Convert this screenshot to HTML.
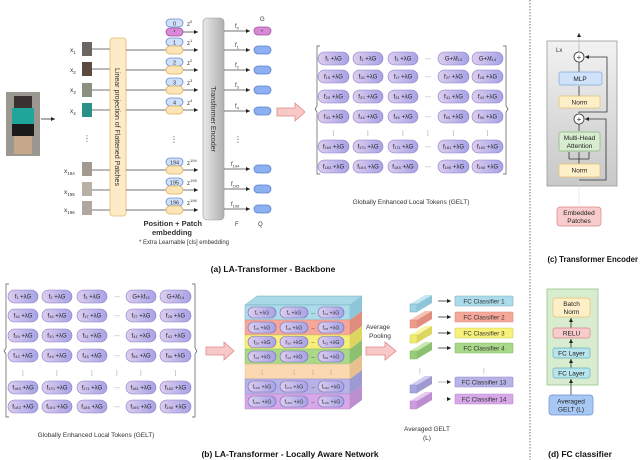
<!DOCTYPE html>
<html><head><meta charset="utf-8"><style>
html,body{margin:0;padding:0;background:#fff}
svg{display:block}
text{font-family:"Liberation Sans","DejaVu Sans",sans-serif;fill:#333}
.p{font-size:6px;text-anchor:middle;fill:#222}
.s{font-size:6.5px;text-anchor:middle;fill:#222}
.b{font-weight:bold;font-size:8.5px;fill:#111}
</style></head><body>
<svg width="640" height="460" viewBox="0 0 640 460" xmlns="http://www.w3.org/2000/svg">
<defs>
<linearGradient id="lg" x1="0" x2="1"><stop offset="0" stop-color="#ddcdee"/><stop offset="1" stop-color="#a7a3e6"/></linearGradient>
<linearGradient id="enc" x1="0" x2="1"><stop offset="0" stop-color="#e8e8e8"/><stop offset="1" stop-color="#b0b0b0"/></linearGradient>
<linearGradient id="gb" x1="0" y1="0" x2="0" y2="1"><stop offset="0" stop-color="#f2f2f2"/><stop offset="1" stop-color="#c8c8c8"/></linearGradient>
<marker id="ar" markerWidth="6" markerHeight="6" refX="5" refY="3" orient="auto"><path d="M0,0.5 L5,3 L0,5.5z" fill="#222"/></marker>
</defs>

<line x1="530" y1="0" x2="530" y2="460" stroke="#555" stroke-dasharray="1.5,1.5" stroke-width="0.8"/>

<!-- ===== (a) ===== -->
<rect x="6" y="92" width="34" height="64" fill="#9a9890"/>
<rect x="14" y="96" width="18" height="14" fill="#3a3030"/>
<rect x="12" y="108" width="22" height="16" fill="#1fa59a"/>
<rect x="12" y="124" width="22" height="12" fill="#1a1a1a"/>
<rect x="14" y="136" width="18" height="18" fill="#c8a88a"/>
<line x1="41" y1="119" x2="55" y2="119" stroke="#333" stroke-width="0.8" marker-end="url(#ar)"/>

<g font-size="6.5">
<text x="70" y="52">x<tspan font-size="4.5" dy="2">1</tspan></text>
<text x="70" y="72">x<tspan font-size="4.5" dy="2">2</tspan></text>
<text x="70" y="92">x<tspan font-size="4.5" dy="2">3</tspan></text>
<text x="70" y="113">x<tspan font-size="4.5" dy="2">4</tspan></text>
<text x="64" y="173">x<tspan font-size="4.5" dy="2">194</tspan></text>
<text x="64" y="194">x<tspan font-size="4.5" dy="2">195</tspan></text>
<text x="64" y="212">x<tspan font-size="4.5" dy="2">196</tspan></text>
</g>
<g>
<rect x="82" y="42" width="10" height="14" fill="#6a6560"/>
<rect x="82" y="62" width="10" height="14" fill="#5a4a40"/>
<rect x="82" y="83" width="10" height="14" fill="#8a9080"/>
<rect x="82" y="103" width="10" height="14" fill="#2a9088"/>
<rect x="82" y="162" width="10" height="14" fill="#a09a90"/>
<rect x="82" y="182" width="10" height="14" fill="#b8b0a4"/>
<rect x="82" y="201" width="10" height="14" fill="#b0a8a0"/>
</g>
<text x="87" y="141" font-size="8" text-anchor="middle">⋮</text>
<g stroke="#444" stroke-width="0.8">
<line x1="92" y1="49" x2="110" y2="49"/><line x1="92" y1="69" x2="110" y2="69"/>
<line x1="92" y1="90" x2="110" y2="90"/><line x1="92" y1="110" x2="110" y2="110"/>
<line x1="92" y1="170" x2="110" y2="170"/><line x1="92" y1="190" x2="110" y2="190"/>
<line x1="92" y1="210" x2="110" y2="210"/>
</g>
<rect x="110" y="38" width="16" height="178" rx="3" fill="#fdebc8" stroke="#e3b870" stroke-width="0.8"/>
<text transform="translate(115,127) rotate(90)" font-size="7" text-anchor="middle">Linear projection of Flattened Patches</text>

<g stroke="#444" stroke-width="0.8">
<line x1="183" y1="32" x2="198" y2="32" marker-end="url(#ar)"/>
<line x1="126" y1="50" x2="198" y2="50" marker-end="url(#ar)"/>
<line x1="126" y1="70" x2="198" y2="70" marker-end="url(#ar)"/>
<line x1="126" y1="90" x2="198" y2="90" marker-end="url(#ar)"/>
<line x1="126" y1="110" x2="198" y2="110" marker-end="url(#ar)"/>
<line x1="126" y1="170" x2="198" y2="170" marker-end="url(#ar)"/>
<line x1="126" y1="190" x2="198" y2="190" marker-end="url(#ar)"/>
<line x1="126" y1="210" x2="198" y2="210" marker-end="url(#ar)"/>
</g>
<g stroke-width="0.8">
<rect x="166" y="19" width="17" height="8" rx="4" fill="#cfe0fa" stroke="#6a8ad0"/>
<rect x="166" y="28" width="17" height="8" rx="4" fill="#d98ad6" stroke="#a050a0"/>
<rect x="166" y="38" width="17" height="8" rx="4" fill="#cfe0fa" stroke="#6a8ad0"/>
<rect x="166" y="46" width="17" height="8" rx="4" fill="#fde5b8" stroke="#e0b060"/>
<rect x="166" y="58" width="17" height="8" rx="4" fill="#cfe0fa" stroke="#6a8ad0"/>
<rect x="166" y="66" width="17" height="8" rx="4" fill="#fde5b8" stroke="#e0b060"/>
<rect x="166" y="78" width="17" height="8" rx="4" fill="#cfe0fa" stroke="#6a8ad0"/>
<rect x="166" y="86" width="17" height="8" rx="4" fill="#fde5b8" stroke="#e0b060"/>
<rect x="166" y="98" width="17" height="8" rx="4" fill="#cfe0fa" stroke="#6a8ad0"/>
<rect x="166" y="106" width="17" height="8" rx="4" fill="#fde5b8" stroke="#e0b060"/>
<rect x="166" y="158" width="17" height="8" rx="4" fill="#cfe0fa" stroke="#6a8ad0"/>
<rect x="166" y="166" width="17" height="8" rx="4" fill="#fde5b8" stroke="#e0b060"/>
<rect x="166" y="178" width="17" height="8" rx="4" fill="#cfe0fa" stroke="#6a8ad0"/>
<rect x="166" y="186" width="17" height="8" rx="4" fill="#fde5b8" stroke="#e0b060"/>
<rect x="166" y="198" width="17" height="8" rx="4" fill="#cfe0fa" stroke="#6a8ad0"/>
<rect x="166" y="206" width="17" height="8" rx="4" fill="#fde5b8" stroke="#e0b060"/>
</g>
<g font-size="5.5" text-anchor="middle">
<text x="174.5" y="25.5">0</text><text x="174.5" y="34">*</text>
<text x="174.5" y="44.5">1</text><text x="174.5" y="64.5">2</text>
<text x="174.5" y="84.5">3</text><text x="174.5" y="104.5">4</text>
<text x="174.5" y="164.5">194</text><text x="174.5" y="184.5">195</text><text x="174.5" y="204.5">196</text>
</g>
<g font-size="6">
<text x="187" y="26">z<tspan font-size="4" dy="-3">0</tspan></text>
<text x="187" y="45">z<tspan font-size="4" dy="-3">1</tspan></text>
<text x="187" y="65">z<tspan font-size="4" dy="-3">2</tspan></text>
<text x="187" y="85">z<tspan font-size="4" dy="-3">3</tspan></text>
<text x="187" y="105">z<tspan font-size="4" dy="-3">4</tspan></text>
<text x="187" y="165">z<tspan font-size="4" dy="-3">194</tspan></text>
<text x="187" y="185">z<tspan font-size="4" dy="-3">195</tspan></text>
<text x="187" y="205">z<tspan font-size="4" dy="-3">196</tspan></text>
</g>
<text x="174" y="142" font-size="8" text-anchor="middle">⋮</text>

<rect x="203" y="18" width="21" height="202" rx="4" fill="url(#enc)" stroke="#999" stroke-width="0.6"/>
<text transform="translate(211,119) rotate(90)" font-size="7" text-anchor="middle">Transformer Encoder</text>

<g stroke="#444" stroke-width="0.8">
<line x1="224" y1="31" x2="250" y2="31" marker-end="url(#ar)"/>
<line x1="224" y1="50" x2="250" y2="50" marker-end="url(#ar)"/>
<line x1="224" y1="70" x2="250" y2="70" marker-end="url(#ar)"/>
<line x1="224" y1="90" x2="250" y2="90" marker-end="url(#ar)"/>
<line x1="224" y1="111" x2="250" y2="111" marker-end="url(#ar)"/>
<line x1="224" y1="169" x2="250" y2="169" marker-end="url(#ar)"/>
<line x1="224" y1="189" x2="250" y2="189" marker-end="url(#ar)"/>
<line x1="224" y1="209" x2="250" y2="209" marker-end="url(#ar)"/>
</g>
<g font-size="6">
<text x="235" y="28">f<tspan font-size="4" dy="1.5">0</tspan></text>
<text x="235" y="47">f<tspan font-size="4" dy="1.5">1</tspan></text>
<text x="235" y="67">f<tspan font-size="4" dy="1.5">2</tspan></text>
<text x="235" y="87">f<tspan font-size="4" dy="1.5">3</tspan></text>
<text x="235" y="108">f<tspan font-size="4" dy="1.5">4</tspan></text>
<text x="231" y="166">f<tspan font-size="4" dy="1.5">194</tspan></text>
<text x="231" y="186">f<tspan font-size="4" dy="1.5">195</tspan></text>
<text x="231" y="206">f<tspan font-size="4" dy="1.5">196</tspan></text>
<text x="260" y="21">G</text>
</g>
<text x="238" y="142" font-size="8" text-anchor="middle">⋮</text>
<g stroke-width="0.8">
<rect x="254" y="27" width="17" height="8" rx="4" fill="#d98ad6" stroke="#a050a0"/>
<rect x="254" y="46" width="17" height="8" rx="4" fill="#8cb0f2" stroke="#5a80d0"/>
<rect x="254" y="66" width="17" height="8" rx="4" fill="#8cb0f2" stroke="#5a80d0"/>
<rect x="254" y="86" width="17" height="8" rx="4" fill="#8cb0f2" stroke="#5a80d0"/>
<rect x="254" y="107" width="17" height="8" rx="4" fill="#8cb0f2" stroke="#5a80d0"/>
<rect x="254" y="165" width="17" height="8" rx="4" fill="#8cb0f2" stroke="#5a80d0"/>
<rect x="254" y="185" width="17" height="8" rx="4" fill="#8cb0f2" stroke="#5a80d0"/>
<rect x="254" y="205" width="17" height="8" rx="4" fill="#8cb0f2" stroke="#5a80d0"/>
</g>
<text x="262" y="33.5" font-size="5.5" text-anchor="middle">*</text>
<text x="235" y="226" font-size="6">F</text>
<text x="258" y="226" font-size="6">Q</text>
<text x="202" y="226" font-size="7.5" font-weight="bold" text-anchor="end" fill="#222">Position + Patch</text>
<text x="192" y="235" font-size="7.5" font-weight="bold" text-anchor="end" fill="#222">embedding</text>
<text x="229" y="244" font-size="6" text-anchor="end">* Extra Learnable [cls] embedding</text>

<path d="M277,108 h18 v-5 l10,9 l-10,9 v-5 h-18z" fill="#f8c8c8" stroke="#e08888" stroke-width="0.8"/>

<path d="M320,46 h-3 v60 l-2,3 l2,3 v62 h3" fill="none" stroke="#555" stroke-width="0.7"/>
<path d="M503,46 h3 v60 l2,3 l-2,3 v62 h-3" fill="none" stroke="#555" stroke-width="0.7"/>
<g fill="url(#lg)" stroke="#8a7cc8" stroke-width="0.6">
<rect x="318" y="52" width="31" height="13" rx="6.5"/><rect x="353" y="52" width="30" height="13" rx="6.5"/><rect x="388" y="52" width="30" height="13" rx="6.5"/><rect x="438" y="52" width="31" height="13" rx="6.5"/><rect x="472" y="52" width="31" height="13" rx="6.5"/>
<rect x="318" y="70" width="31" height="13" rx="6.5"/><rect x="353" y="70" width="30" height="13" rx="6.5"/><rect x="388" y="70" width="30" height="13" rx="6.5"/><rect x="438" y="70" width="31" height="13" rx="6.5"/><rect x="472" y="70" width="31" height="13" rx="6.5"/>
<rect x="318" y="90" width="31" height="13" rx="6.5"/><rect x="353" y="90" width="30" height="13" rx="6.5"/><rect x="388" y="90" width="30" height="13" rx="6.5"/><rect x="438" y="90" width="31" height="13" rx="6.5"/><rect x="472" y="90" width="31" height="13" rx="6.5"/>
<rect x="318" y="110" width="31" height="13" rx="6.5"/><rect x="353" y="110" width="30" height="13" rx="6.5"/><rect x="388" y="110" width="30" height="13" rx="6.5"/><rect x="438" y="110" width="31" height="13" rx="6.5"/><rect x="472" y="110" width="31" height="13" rx="6.5"/>
<rect x="318" y="140" width="31" height="13" rx="6.5"/><rect x="353" y="140" width="30" height="13" rx="6.5"/><rect x="388" y="140" width="30" height="13" rx="6.5"/><rect x="438" y="140" width="31" height="13" rx="6.5"/><rect x="472" y="140" width="31" height="13" rx="6.5"/>
<rect x="318" y="160" width="31" height="13" rx="6.5"/><rect x="353" y="160" width="30" height="13" rx="6.5"/><rect x="388" y="160" width="30" height="13" rx="6.5"/><rect x="438" y="160" width="31" height="13" rx="6.5"/><rect x="472" y="160" width="31" height="13" rx="6.5"/>
</g>
<g class="p">
<text class="p" x="333.5" y="60.5">f₁ +λG</text><text class="p" x="368" y="60.5">f₂ +λG</text><text class="p" x="403" y="60.5">f₃ +λG</text><text class="p" x="428" y="60.5">···</text><text class="p" x="453.5" y="60.5">G+λf₁₃</text><text class="p" x="487.5" y="60.5">G+λf₁₄</text>
<text class="p" x="333.5" y="78.5">f₁₅ +λG</text><text class="p" x="368" y="78.5">f₁₆ +λG</text><text class="p" x="403" y="78.5">f₁₇ +λG</text><text class="p" x="428" y="78.5">···</text><text class="p" x="453.5" y="78.5">f₂₇ +λG</text><text class="p" x="487.5" y="78.5">f₂₈ +λG</text>
<text class="p" x="333.5" y="98.5">f₂₉ +λG</text><text class="p" x="368" y="98.5">f₃₀ +λG</text><text class="p" x="403" y="98.5">f₃₁ +λG</text><text class="p" x="428" y="98.5">···</text><text class="p" x="453.5" y="98.5">f₄₁ +λG</text><text class="p" x="487.5" y="98.5">f₄₂ +λG</text>
<text class="p" x="333.5" y="118.5">f₄₃ +λG</text><text class="p" x="368" y="118.5">f₄₄ +λG</text><text class="p" x="403" y="118.5">f₄₅ +λG</text><text class="p" x="428" y="118.5">···</text><text class="p" x="453.5" y="118.5">f₅₅ +λG</text><text class="p" x="487.5" y="118.5">f₅₆ +λG</text>
<text class="p" x="333.5" y="135">⋮</text><text class="p" x="368" y="135">⋮</text><text class="p" x="403" y="135">⋮</text><text class="p" x="428" y="135">⋮</text><text class="p" x="453.5" y="135">⋮</text><text class="p" x="487.5" y="135">⋮</text>
<text class="p" x="333.5" y="148.5">f₁₆₉ +λG</text><text class="p" x="368" y="148.5">f₁₇₀ +λG</text><text class="p" x="403" y="148.5">f₁₇₁ +λG</text><text class="p" x="428" y="148.5">···</text><text class="p" x="453.5" y="148.5">f₁₈₁ +λG</text><text class="p" x="487.5" y="148.5">f₁₈₂ +λG</text>
<text class="p" x="333.5" y="168.5">f₁₈₃ +λG</text><text class="p" x="368" y="168.5">f₁₈₄ +λG</text><text class="p" x="403" y="168.5">f₁₈₅ +λG</text><text class="p" x="428" y="168.5">···</text><text class="p" x="453.5" y="168.5">f₁₉₅ +λG</text><text class="p" x="487.5" y="168.5">f₁₉₆ +λG</text>
</g>
<text x="411" y="204" font-size="6.5" text-anchor="middle">Globally Enhanced Local Tokens (GELT)</text>
<text x="273" y="272" class="b" text-anchor="middle">(a) LA-Transformer - Backbone</text>

<!-- ===== (c) ===== -->
<rect x="547" y="41" width="70" height="145" fill="url(#gb)" stroke="#999" stroke-width="0.8"/>
<line x1="579" y1="205" x2="579" y2="180" stroke="#ddd" stroke-width="0.6"/>
<line x1="579" y1="52" x2="579" y2="33" stroke="#bbb" stroke-width="0.8" marker-end="url(#ar)"/>
<text x="556" y="52" font-size="6">Lx</text>
<g fill="none" stroke="#333" stroke-width="0.8">
<path d="M579,180 H606 V119 H585" marker-end="url(#ar)"/>
<path d="M579,113 V112 H607 V57 H585" marker-end="url(#ar)"/>
<path d="M579,164 V159 M569,159 H589 M569,159 V152 M579,159 V152 M589,159 V152"/>
<path d="M579,131 V124 M579,96 V86 M579,72 V62"/>
</g>
<circle cx="579" cy="57" r="5" fill="#fff" stroke="#333" stroke-width="0.8"/>
<text x="579" y="60" font-size="8" text-anchor="middle">+</text>
<circle cx="579" cy="119" r="5" fill="#fff" stroke="#333" stroke-width="0.8"/>
<text x="579" y="122" font-size="8" text-anchor="middle">+</text>
<rect x="559" y="72" width="43" height="13" rx="2" fill="#cfe2fa" stroke="#7ea6d8" stroke-width="0.7"/>
<text x="580" y="81" class="s">MLP</text>
<rect x="559" y="96" width="41" height="12" rx="2" fill="#fdefc8" stroke="#e3c070" stroke-width="0.7"/>
<text x="579.5" y="104.5" class="s">Norm</text>
<rect x="559" y="132" width="41" height="19" rx="2" fill="#d8ecd0" stroke="#88b878" stroke-width="0.7"/>
<text x="579.5" y="140" class="s">Multi-Head</text>
<text x="579.5" y="148" class="s">Attention</text>
<rect x="559" y="164" width="41" height="13" rx="2" fill="#fdefc8" stroke="#e3c070" stroke-width="0.7"/>
<text x="579.5" y="172.5" class="s">Norm</text>
<rect x="557" y="207" width="44" height="19" rx="3" fill="#f8cccc" stroke="#d88888" stroke-width="0.7"/>
<text x="579" y="215" class="s">Embedded</text>
<text x="579" y="223" class="s">Patches</text>
<text x="638" y="262" class="b" font-size="7.8" text-anchor="end" style="font-size:7.8px">(c) Transformer Encoder</text>

<!-- ===== (b) ===== -->
<path d="M9,284 h-3 v64 l-2,3 l2,3 v63 h3" fill="none" stroke="#555" stroke-width="0.7"/>
<path d="M192,284 h3 v64 l2,3 l-2,3 v63 h-3" fill="none" stroke="#555" stroke-width="0.7"/>
<g fill="url(#lg)" stroke="#8a7cc8" stroke-width="0.6">
<rect x="8" y="290" width="30" height="13" rx="6.5"/><rect x="42" y="290" width="30" height="13" rx="6.5"/><rect x="77" y="290" width="30" height="13" rx="6.5"/><rect x="126" y="290" width="30" height="13" rx="6.5"/><rect x="160" y="290" width="31" height="13" rx="6.5"/>
<rect x="8" y="309" width="30" height="13" rx="6.5"/><rect x="42" y="309" width="30" height="13" rx="6.5"/><rect x="77" y="309" width="30" height="13" rx="6.5"/><rect x="126" y="309" width="30" height="13" rx="6.5"/><rect x="160" y="309" width="31" height="13" rx="6.5"/>
<rect x="8" y="329" width="30" height="13" rx="6.5"/><rect x="42" y="329" width="30" height="13" rx="6.5"/><rect x="77" y="329" width="30" height="13" rx="6.5"/><rect x="126" y="329" width="30" height="13" rx="6.5"/><rect x="160" y="329" width="31" height="13" rx="6.5"/>
<rect x="8" y="349" width="30" height="13" rx="6.5"/><rect x="42" y="349" width="30" height="13" rx="6.5"/><rect x="77" y="349" width="30" height="13" rx="6.5"/><rect x="126" y="349" width="30" height="13" rx="6.5"/><rect x="160" y="349" width="31" height="13" rx="6.5"/>
<rect x="8" y="381" width="30" height="13" rx="6.5"/><rect x="42" y="381" width="30" height="13" rx="6.5"/><rect x="77" y="381" width="30" height="13" rx="6.5"/><rect x="126" y="381" width="30" height="13" rx="6.5"/><rect x="160" y="381" width="31" height="13" rx="6.5"/>
<rect x="8" y="400" width="30" height="13" rx="6.5"/><rect x="42" y="400" width="30" height="13" rx="6.5"/><rect x="77" y="400" width="30" height="13" rx="6.5"/><rect x="126" y="400" width="30" height="13" rx="6.5"/><rect x="160" y="400" width="31" height="13" rx="6.5"/>
</g>
<g>
<text class="p" x="23" y="298.5">f₁ +λG</text><text class="p" x="57" y="298.5">f₂ +λG</text><text class="p" x="92" y="298.5">f₃ +λG</text><text class="p" x="117" y="298.5">···</text><text class="p" x="141" y="298.5">G+λf₁₃</text><text class="p" x="175.5" y="298.5">G+λf₁₄</text>
<text class="p" x="23" y="317.5">f₁₅ +λG</text><text class="p" x="57" y="317.5">f₁₆ +λG</text><text class="p" x="92" y="317.5">f₁₇ +λG</text><text class="p" x="117" y="317.5">···</text><text class="p" x="141" y="317.5">f₂₇ +λG</text><text class="p" x="175.5" y="317.5">f₂₈ +λG</text>
<text class="p" x="23" y="337.5">f₂₉ +λG</text><text class="p" x="57" y="337.5">f₃₀ +λG</text><text class="p" x="92" y="337.5">f₃₁ +λG</text><text class="p" x="117" y="337.5">···</text><text class="p" x="141" y="337.5">f₄₁ +λG</text><text class="p" x="175.5" y="337.5">f₄₂ +λG</text>
<text class="p" x="23" y="357.5">f₄₃ +λG</text><text class="p" x="57" y="357.5">f₄₄ +λG</text><text class="p" x="92" y="357.5">f₄₅ +λG</text><text class="p" x="117" y="357.5">···</text><text class="p" x="141" y="357.5">f₅₅ +λG</text><text class="p" x="175.5" y="357.5">f₅₆ +λG</text>
<text class="p" x="23" y="375">⋮</text><text class="p" x="57" y="375">⋮</text><text class="p" x="92" y="375">⋮</text><text class="p" x="117" y="375">⋮</text><text class="p" x="141" y="375">⋮</text><text class="p" x="175.5" y="375">⋮</text>
<text class="p" x="23" y="389.5">f₁₆₉ +λG</text><text class="p" x="57" y="389.5">f₁₇₀ +λG</text><text class="p" x="92" y="389.5">f₁₇₁ +λG</text><text class="p" x="117" y="389.5">···</text><text class="p" x="141" y="389.5">f₁₈₁ +λG</text><text class="p" x="175.5" y="389.5">f₁₈₂ +λG</text>
<text class="p" x="23" y="408.5">f₁₈₃ +λG</text><text class="p" x="57" y="408.5">f₁₈₄ +λG</text><text class="p" x="92" y="408.5">f₁₈₅ +λG</text><text class="p" x="117" y="408.5">···</text><text class="p" x="141" y="408.5">f₁₉₅ +λG</text><text class="p" x="175.5" y="408.5">f₁₉₆ +λG</text>
</g>
<text x="96" y="437" font-size="6.5" text-anchor="middle">Globally Enhanced Local Tokens (GELT)</text>

<path d="M206,347 h18 v-5 l10,9 l-10,9 v-5 h-18z" fill="#f8c8c8" stroke="#e08888" stroke-width="0.8"/>

<polygon points="245,305 257,296 362,296 350,305" fill="#a9d8e6" stroke="#7ab" stroke-width="0.5"/>
<g stroke-width="0.5">
<rect x="245" y="305" width="105" height="15" fill="#acdcea" stroke="#7ab"/><polygon points="350,305 362,296 362,311 350,320" fill="#8cc6d8"/>
<rect x="245" y="320" width="105" height="15" fill="#f5a89a" stroke="#d87"/><polygon points="350,320 362,311 362,326 350,335" fill="#e08c7e"/>
<rect x="245" y="335" width="105" height="14" fill="#f6f07a" stroke="#cc5"/><polygon points="350,335 362,326 362,340 350,349" fill="#dcd660"/>
<rect x="245" y="349" width="105" height="15" fill="#a8d888" stroke="#8b6"/><polygon points="350,349 362,340 362,355 350,364" fill="#8cc070"/>
<rect x="245" y="364" width="105" height="15" fill="#fbd8b0" stroke="#db9"/><polygon points="350,364 362,355 362,370 350,379" fill="#e8c090"/>
<rect x="245" y="379" width="105" height="15" fill="#b6b4e6" stroke="#98c"/><polygon points="350,379 362,370 362,385 350,394" fill="#9c9ad0"/>
<rect x="245" y="394" width="105" height="15" fill="#d6a8e8" stroke="#b8c"/><polygon points="350,394 362,385 362,400 350,409" fill="#bc8ed0"/>
</g>
<g fill="url(#lg)" stroke="#7a6cb8" stroke-width="0.6">
<rect x="248" y="307" width="28" height="11" rx="5.5"/><rect x="280" y="307" width="28" height="11" rx="5.5"/><rect x="318" y="307" width="26" height="11" rx="5.5"/>
<rect x="248" y="322" width="28" height="11" rx="5.5"/><rect x="280" y="322" width="28" height="11" rx="5.5"/><rect x="318" y="322" width="26" height="11" rx="5.5"/>
<rect x="248" y="336.5" width="28" height="11" rx="5.5"/><rect x="280" y="336.5" width="28" height="11" rx="5.5"/><rect x="318" y="336.5" width="26" height="11" rx="5.5"/>
<rect x="248" y="351" width="28" height="11" rx="5.5"/><rect x="280" y="351" width="28" height="11" rx="5.5"/><rect x="318" y="351" width="26" height="11" rx="5.5"/>
<rect x="248" y="381" width="28" height="11" rx="5.5"/><rect x="280" y="381" width="28" height="11" rx="5.5"/><rect x="318" y="381" width="26" height="11" rx="5.5"/>
<rect x="248" y="396" width="28" height="11" rx="5.5"/><rect x="280" y="396" width="28" height="11" rx="5.5"/><rect x="318" y="396" width="26" height="11" rx="5.5"/>
</g>
<g font-size="5.3" text-anchor="middle">
<text x="262" y="314.5">f₁ +λG</text><text x="294" y="314.5">f₂ +λG</text><text x="313" y="314.5">--</text><text x="331" y="314.5">f₁₄ +λG</text>
<text x="262" y="329.5">f₁₅ +λG</text><text x="294" y="329.5">f₁₆ +λG</text><text x="313" y="329.5">--</text><text x="331" y="329.5">f₂₈ +λG</text>
<text x="262" y="344">f₂₉ +λG</text><text x="294" y="344">f₃₀ +λG</text><text x="313" y="344">--</text><text x="331" y="344">f₄₂ +λG</text>
<text x="262" y="358.5">f₄₃ +λG</text><text x="294" y="358.5">f₄₄ +λG</text><text x="313" y="358.5">--</text><text x="331" y="358.5">f₅₆ +λG</text>
<text x="262" y="374">⋮</text><text x="294" y="374">⋮</text><text x="313" y="374">⋮</text><text x="331" y="374">⋮</text>
<text x="262" y="388.5">f₁₆₉ +λG</text><text x="294" y="388.5">f₁₇₀ +λG</text><text x="313" y="388.5">--</text><text x="331" y="388.5">f₁₈₂ +λG</text>
<text x="262" y="403.5">f₁₈₃ +λG</text><text x="294" y="403.5">f₁₈₄ +λG</text><text x="313" y="403.5">--</text><text x="331" y="403.5">f₁₉₆ +λG</text>
</g>

<text x="378" y="329" font-size="6.5" text-anchor="middle">Average</text>
<text x="380" y="338" font-size="6.5" text-anchor="middle">Pooling</text>
<path d="M366,347 h19 v-5 l11,9 l-11,9 v-5 h-19z" fill="#f8c8c8" stroke="#e08888" stroke-width="0.8"/>

<g stroke-width="0.5">
<polygon points="410,304 425,295 432,295 417,304" fill="#c8e8f2"/><rect x="410" y="304" width="7" height="8" fill="#9dd3e4" stroke="#7ab"/><polygon points="417,304 432,295 432,303 417,312" fill="#8cc6d8"/>
<polygon points="410,320 425,311 432,311 417,320" fill="#f8c0b4"/><rect x="410" y="320" width="7" height="8" fill="#f09a8c" stroke="#d87"/><polygon points="417,320 432,311 432,319 417,328" fill="#e08c7e"/>
<polygon points="410,335 425,326 432,326 417,335" fill="#faf6a8"/><rect x="410" y="335" width="7" height="8" fill="#f0ea70" stroke="#cc5"/><polygon points="417,335 432,326 432,334 417,343" fill="#dcd660"/>
<polygon points="410,351 425,342 432,342 417,351" fill="#c8e8b0"/><rect x="410" y="351" width="7" height="8" fill="#98cc78" stroke="#8b6"/><polygon points="417,351 432,342 432,350 417,359" fill="#8cc070"/>
<polygon points="410,385 425,376 432,376 417,385" fill="#cfcdf0"/><rect x="410" y="385" width="7" height="8" fill="#a8a6e0" stroke="#98c"/><polygon points="417,385 432,376 432,384 417,393" fill="#9c9ad0"/>
<polygon points="410,401 425,392 432,392 417,401" fill="#e8c8f2"/><rect x="410" y="401" width="7" height="8" fill="#cc9ce0" stroke="#b8c"/><polygon points="417,401 432,392 432,400 417,409" fill="#bc8ed0"/>
</g>
<text x="420" y="373" font-size="6" text-anchor="middle">⋮</text>
<text x="484" y="373" font-size="6" text-anchor="middle">⋮</text>
<g stroke="#333" stroke-width="0.8">
<line x1="438" y1="301" x2="451" y2="301" marker-end="url(#ar)"/>
<line x1="438" y1="317" x2="451" y2="317" marker-end="url(#ar)"/>
<line x1="438" y1="333" x2="451" y2="333" marker-end="url(#ar)"/>
<line x1="438" y1="348" x2="451" y2="348" marker-end="url(#ar)"/>
<line x1="438" y1="382" x2="451" y2="382" stroke="#aaa" marker-end="url(#ar)"/>
<line x1="442" y1="399" x2="451" y2="399" stroke="#ddd" marker-end="url(#ar)"/>
</g>
<g stroke-width="0.6">
<rect x="455" y="296" width="58" height="10" rx="1" fill="#acdcec" stroke="#7ab"/>
<rect x="455" y="312" width="58" height="10" rx="1" fill="#f5a89a" stroke="#d87"/>
<rect x="455" y="328" width="58" height="10" rx="1" fill="#f8f27a" stroke="#cc5"/>
<rect x="455" y="343" width="58" height="10" rx="1" fill="#a8d888" stroke="#8b6"/>
<rect x="455" y="377" width="58" height="10" rx="1" fill="#b6b4e6" stroke="#98c"/>
<rect x="455" y="394" width="58" height="10" rx="1" fill="#d6a8e8" stroke="#b8c"/>
</g>
<g font-size="6.3" text-anchor="middle">
<text x="484" y="303.5">FC Classifier 1</text>
<text x="484" y="319.5">FC Classifier 2</text>
<text x="484" y="335.5">FC Classifier 3</text>
<text x="484" y="350.5">FC Classifier 4</text>
<text x="484" y="384.5">FC Classifier 13</text>
<text x="484" y="401.5">FC Classifier 14</text>
</g>
<text x="427" y="431" font-size="6.5" text-anchor="middle">Averaged GELT</text>
<text x="427" y="440" font-size="6.5" text-anchor="middle">(L)</text>
<text x="290" y="457" class="b" text-anchor="middle">(b) LA-Transformer - Locally Aware Network</text>

<!-- ===== (d) ===== -->
<rect x="547" y="289" width="51" height="96" fill="#d8ecd0" stroke="#98c488" stroke-width="0.8"/>
<g stroke="#333" stroke-width="0.8">
<line x1="571" y1="395" x2="571" y2="379" marker-end="url(#ar)"/>
<line x1="571" y1="368" x2="571" y2="359" marker-end="url(#ar)"/>
<line x1="571" y1="348" x2="571" y2="339" marker-end="url(#ar)"/>
<line x1="571" y1="328" x2="571" y2="318" marker-end="url(#ar)"/>
</g>
<rect x="553" y="298" width="37" height="19" rx="3" fill="#fdefc8" stroke="#e3c070" stroke-width="0.7"/>
<text x="571.5" y="306" class="s">Batch</text><text x="571.5" y="314" class="s">Norm</text>
<rect x="553" y="328" width="37" height="10" rx="2" fill="#f8cccc" stroke="#d88888" stroke-width="0.7"/>
<text x="571.5" y="335.5" class="s">RELU</text>
<rect x="553" y="348" width="37" height="10" rx="2" fill="#b8e4ec" stroke="#6ab0c0" stroke-width="0.7"/>
<text x="571.5" y="355.5" class="s">FC Layer</text>
<rect x="553" y="368" width="37" height="10" rx="2" fill="#b8e4ec" stroke="#6ab0c0" stroke-width="0.7"/>
<text x="571.5" y="375.5" class="s">FC Layer</text>
<rect x="549" y="395" width="44" height="20" rx="3" fill="#a8c8f4" stroke="#6a90d0" stroke-width="0.7"/>
<text x="571" y="403.5" class="s">Averaged</text><text x="571" y="411.5" class="s">GELT (L)</text>
<text x="580" y="457" class="b" text-anchor="middle">(d) FC classifier</text>
</svg>
</body></html>
